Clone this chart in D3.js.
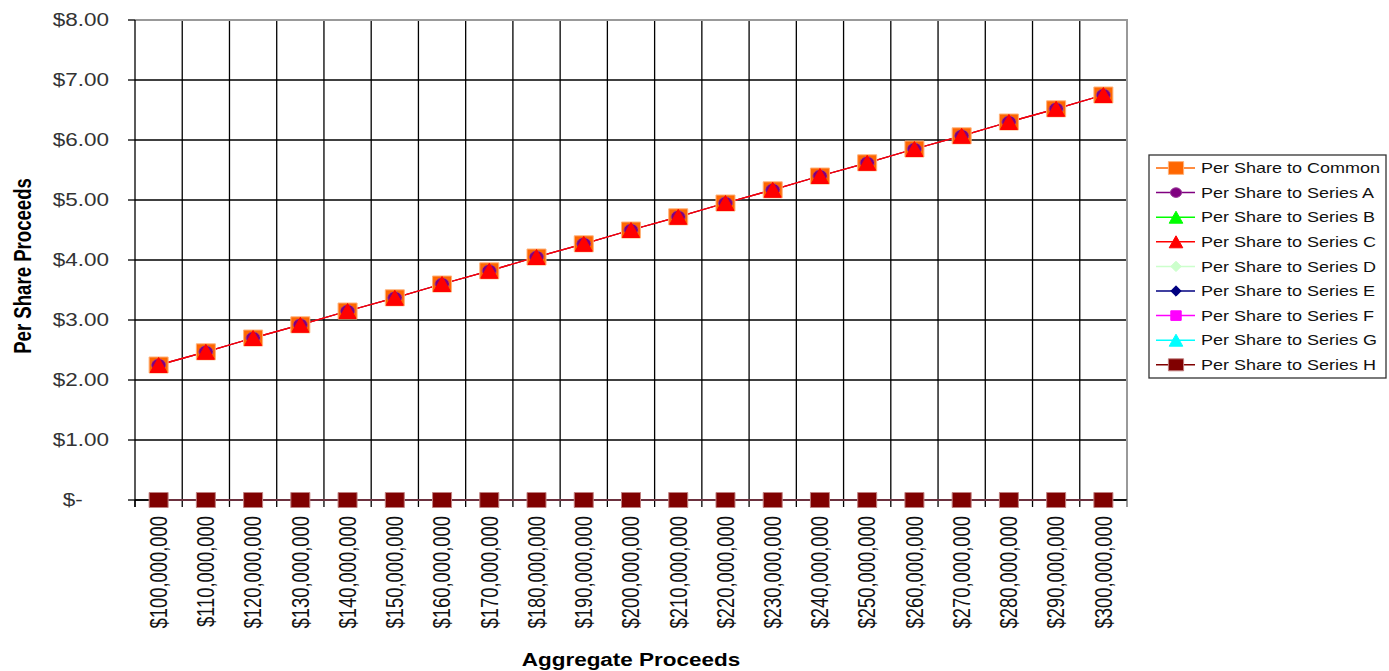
<!DOCTYPE html>
<html>
<head>
<meta charset="utf-8">
<script src="https://cdn.jsdelivr.net/npm/d3@7"></script>
<style>
  html, body { margin: 0; padding: 0; background: #fff; }
  svg { display: block; font-family: "Liberation Sans", Arial, sans-serif; }
</style>
</head>
<body>
<svg id="chart" width="1389" height="671"></svg>
<script>
// Aggregate proceeds (category axis)
const proceeds = [100e6, 110e6, 120e6, 130e6, 140e6, 150e6, 160e6, 170e6, 180e6, 190e6, 200e6,
                  210e6, 220e6, 230e6, 240e6, 250e6, 260e6, 270e6, 280e6, 290e6, 300e6];

// Per-share proceeds for each class
const perShareCommon  = [2.25, 2.47, 2.70, 2.92, 3.15, 3.37, 3.60, 3.82, 4.05, 4.27, 4.50,
                         4.72, 4.95, 5.17, 5.40, 5.62, 5.85, 6.07, 6.30, 6.52, 6.75];
const perShareSeriesA = [2.25, 2.47, 2.70, 2.92, 3.15, 3.37, 3.60, 3.82, 4.05, 4.27, 4.50,
                         4.72, 4.95, 5.17, 5.40, 5.62, 5.85, 6.07, 6.30, 6.52, 6.75];
const perShareSeriesB = [0, 0, 0, 0, 0, 0, 0, 0, 0, 0, 0, 0, 0, 0, 0, 0, 0, 0, 0, 0, 0];
const perShareSeriesC = [2.25, 2.47, 2.70, 2.92, 3.15, 3.37, 3.60, 3.82, 4.05, 4.27, 4.50,
                         4.72, 4.95, 5.17, 5.40, 5.62, 5.85, 6.07, 6.30, 6.52, 6.75];
const perShareSeriesD = [0, 0, 0, 0, 0, 0, 0, 0, 0, 0, 0, 0, 0, 0, 0, 0, 0, 0, 0, 0, 0];
const perShareSeriesE = [0, 0, 0, 0, 0, 0, 0, 0, 0, 0, 0, 0, 0, 0, 0, 0, 0, 0, 0, 0, 0];
const perShareSeriesF = [0, 0, 0, 0, 0, 0, 0, 0, 0, 0, 0, 0, 0, 0, 0, 0, 0, 0, 0, 0, 0];
const perShareSeriesG = [0, 0, 0, 0, 0, 0, 0, 0, 0, 0, 0, 0, 0, 0, 0, 0, 0, 0, 0, 0, 0];
const perShareSeriesH = [0, 0, 0, 0, 0, 0, 0, 0, 0, 0, 0, 0, 0, 0, 0, 0, 0, 0, 0, 0, 0];

const seriesNames = ["Per Share to Common", "Per Share to Series A", "Per Share to Series B",
                     "Per Share to Series C", "Per Share to Series D", "Per Share to Series E",
                     "Per Share to Series F", "Per Share to Series G", "Per Share to Series H"];

const yTickValues = [0, 1, 2, 3, 4, 5, 6, 7, 8];

// Styling of each series: colour, marker shape and marker size (w, h)
const seriesStyle = [
  { color: "#FF6600", stroke: "#FFB27A", shape: "square",   w: 19, h: 16 },
  { color: "#800080", stroke: "#9A3C9A", shape: "circle",   w: 14, h: 12 },
  { color: "#00FF00", stroke: "#00FF00", shape: "triangle", w: 17, h: 15 },
  { color: "#FF0000", stroke: "#FF0000", shape: "triangle", w: 17, h: 15 },
  { color: "#CCFFCC", stroke: "#CCFFCC", shape: "diamond",  w: 13, h: 13 },
  { color: "#000080", stroke: "#000080", shape: "diamond",  w: 13, h: 13 },
  { color: "#FF00FF", stroke: "#FF00FF", shape: "square",   w: 13, h: 12 },
  { color: "#00FFFF", stroke: "#00FFFF", shape: "triangle", w: 17, h: 15 },
  { color: "#800000", stroke: "#C08080", shape: "square",   w: 19, h: 15 }
];

const seriesValues = [perShareCommon, perShareSeriesA, perShareSeriesB, perShareSeriesC,
                      perShareSeriesD, perShareSeriesE, perShareSeriesF, perShareSeriesG,
                      perShareSeriesH];

const series = seriesNames.map((name, i) => ({ name, values: seriesValues[i], style: seriesStyle[i] }));

// Layout
const plot = { left: 135, right: 1127, top: 20, bottom: 500 };
const STRETCH = 1.25;   // glyphs are drawn slightly wide
const fmtMoney = d3.format("$,.0f");

const svg = d3.select("#chart");

const x = d3.scaleBand().domain(proceeds).range([plot.left, plot.right]).padding(0);
const y = d3.scaleLinear().domain([0, 8]).range([plot.bottom, plot.top]);
const cx = d => x(d) + x.bandwidth() / 2;

// Marker path centred on the origin
function markerPath(shape, w, h) {
  const hw = w / 2, hh = h / 2;
  switch (shape) {
    case "square":   return `M${-hw},${-hh}H${hw}V${hh}H${-hw}Z`;
    case "circle":   return `M${-hw},0A${hw},${hh} 0 1,0 ${hw},0A${hw},${hh} 0 1,0 ${-hw},0Z`;
    case "triangle": return `M0,${-hh}L${hw},${hh}L${-hw},${hh}Z`;
    case "diamond":  return `M0,${-hh}L${hw},0L0,${hh}L${-hw},0Z`;
  }
}

// Horizontal gridlines
const grid = svg.append("g");
grid.selectAll("line.h").data(yTickValues.filter(v => v < 8)).join("line")
  .attr("x1", plot.left).attr("x2", plot.right)
  .attr("y1", d => y(d)).attr("y2", d => y(d))
  .attr("stroke", "#000").attr("stroke-width", 1.3);

// Vertical gridlines at category boundaries
const boundaries = proceeds.map(p => x(p)).concat([x.range()[1]]);
grid.selectAll("line.v").data(boundaries.slice(1, -1)).join("line")
  .attr("x1", d => d).attr("x2", d => d)
  .attr("y1", plot.top).attr("y2", plot.bottom)
  .attr("stroke", "#000").attr("stroke-width", 1.3);

// Plot area border (top and right)
svg.append("path")
  .attr("d", `M${plot.left},${plot.top}H${plot.right}V${plot.bottom}`)
  .attr("fill", "none").attr("stroke", "#999").attr("stroke-width", 2);

// Axis lines and tick marks
svg.append("line").attr("x1", plot.left).attr("x2", plot.left)
  .attr("y1", plot.top).attr("y2", plot.bottom + 7).attr("stroke", "#000").attr("stroke-width", 1.3);
svg.append("line").attr("x1", plot.left).attr("x2", plot.right)
  .attr("y1", plot.bottom).attr("y2", plot.bottom).attr("stroke", "#000").attr("stroke-width", 1.3);
svg.append("g").selectAll("line").data(yTickValues).join("line")
  .attr("x1", plot.left - 7).attr("x2", plot.left)
  .attr("y1", d => y(d)).attr("y2", d => y(d))
  .attr("stroke", "#000").attr("stroke-width", 1.3);
svg.append("g").selectAll("line").data(boundaries).join("line")
  .attr("x1", d => d).attr("x2", d => d)
  .attr("y1", plot.bottom).attr("y2", plot.bottom + 7)
  .attr("stroke", (d, i) => i === boundaries.length - 1 ? "#666" : "#000").attr("stroke-width", 1.3);

// Y tick labels
svg.append("g").selectAll("text").data(yTickValues).join("text")
  .attr("transform", d => `translate(${plot.left - 26},${y(d)}) scale(${STRETCH},1)`)
  .attr("dx", d => d === 0 ? -21 : 0)
  .attr("dy", "0.36em")
  .attr("text-anchor", "end")
  .attr("font-size", 18)
  .attr("fill", "#333")
  .text(d => d === 0 ? "$-" : d3.format("$.2f")(d));

// X tick labels (rotated)
svg.append("g").selectAll("text").data(proceeds).join("text")
  .attr("transform", d => `translate(${cx(d)},${plot.bottom + 16}) scale(${STRETCH},1) rotate(-90)`)
  .attr("dy", "0.36em")
  .attr("text-anchor", "end")
  .attr("font-size", 18.4)
  .attr("fill", "#111")
  .text(d => fmtMoney(d));

// Axis titles
svg.append("text")
  .attr("transform", `translate(31,266) scale(${STRETCH},1) rotate(-90)`)
  .attr("text-anchor", "middle")
  .attr("font-size", 18.6).attr("font-weight", "bold").attr("fill", "#000")
  .text("Per Share Proceeds");
svg.append("text")
  .attr("transform", `translate(631,666) scale(${STRETCH},1)`)
  .attr("text-anchor", "middle")
  .attr("font-size", 18).attr("font-weight", "bold").attr("fill", "#000")
  .text("Aggregate Proceeds");

// Series lines
const line = d3.line().x((d, i) => cx(proceeds[i])).y(d => y(d));
svg.append("g").selectAll("path").data(series).join("path")
  .attr("d", s => line(s.values))
  .attr("fill", "none")
  .attr("stroke", s => s.style.color)
  .attr("stroke-width", 1.3);

// Series markers
series.forEach(s => {
  svg.append("g").selectAll("path").data(s.values).join("path")
    .attr("transform", (v, i) => `translate(${cx(proceeds[i])},${y(v)})`)
    .attr("d", markerPath(s.style.shape, s.style.w, s.style.h))
    .attr("fill", s.style.color)
    .attr("stroke", s.style.stroke)
    .attr("stroke-width", 1)
    .attr("stroke-dasharray", s.style.shape === "circle" ? "1.5,1.5" : null);
});

// Legend
const legend = { left: 1149, top: 155, width: 237, height: 223, rowStart: 168, rowStep: 24.6 };
const lg = svg.append("g");
lg.append("rect")
  .attr("x", legend.left).attr("y", legend.top)
  .attr("width", legend.width).attr("height", legend.height)
  .attr("fill", "#fff").attr("stroke", "#333").attr("stroke-width", 1.3);

const rows = lg.selectAll("g.row").data(series).join("g")
  .attr("transform", (s, i) => `translate(0,${legend.rowStart + i * legend.rowStep})`);
rows.append("line")
  .attr("x1", legend.left + 7).attr("x2", legend.left + 46)
  .attr("stroke", s => s.style.color).attr("stroke-width", 1.5);
rows.append("path")
  .attr("transform", `translate(${legend.left + 27},0)`)
  .attr("d", s => markerPath(s.style.shape, s.style.w * 0.8, s.style.h * 0.8))
  .attr("fill", s => s.style.color)
  .attr("stroke", s => s.style.stroke)
  .attr("stroke-width", 1);
rows.append("text")
  .attr("transform", `translate(${legend.left + 52},0) scale(${STRETCH},1)`)
  .attr("dy", "0.36em")
  .attr("font-size", 14.4)
  .attr("fill", "#111")
  .text(s => s.name);
</script>
</body>
</html>
